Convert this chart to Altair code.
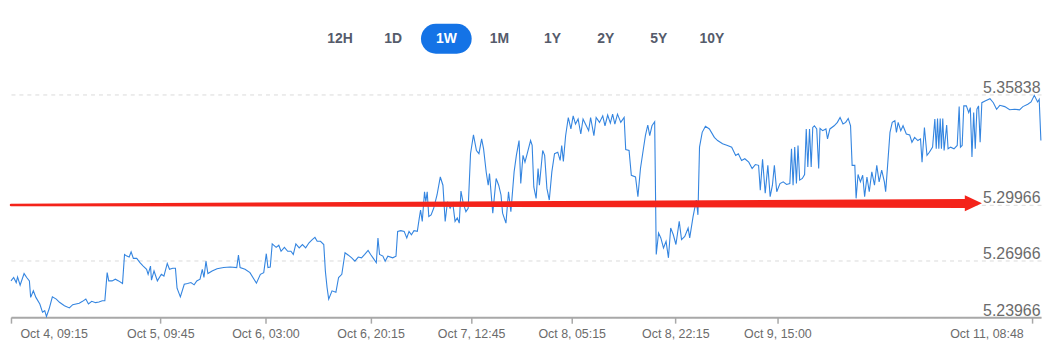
import altair as alt
import pandas as pd

START = pd.Timestamp("2024-10-04 09:15")
END_HOURS = 169.0

# hours since Oct 4, 09:15 and the rate
hours = [
    0.00, 0.44, 0.86, 1.08, 1.50, 2.15, 2.58, 3.02, 3.23, 3.67,
    4.09, 4.73, 5.17, 5.54, 5.82, 6.25, 6.79, 7.43, 7.96, 8.77,
    9.58, 10.13, 10.66, 11.20, 11.74, 12.28, 12.71, 13.25, 13.89, 14.43,
    14.98, 15.40, 15.78, 16.04, 16.59, 17.12, 17.66, 18.30, 18.63, 19.01,
    19.39, 19.71, 20.08, 20.63, 21.16, 21.70, 22.25, 22.50, 22.89, 23.05,
    23.47, 24.02, 24.67, 25.09, 25.64, 26.01, 26.54, 26.98, 27.25, 27.79,
    28.43, 28.97, 29.52, 30.05, 30.48, 31.02, 31.39, 31.66, 31.99, 32.31,
    33.00, 33.81, 34.89, 35.98, 37.04, 37.32, 37.59, 38.40, 39.21, 40.27,
    40.92, 41.47, 41.89, 42.16, 42.54, 42.86, 43.51, 43.94, 44.31, 44.86,
    45.40, 45.93, 46.32, 46.74, 47.29, 47.82, 48.35, 48.90, 49.43, 49.87,
    50.24, 50.78, 51.32, 51.58, 51.86, 52.13, 52.67, 53.31, 53.75, 54.28,
    54.81, 55.36, 55.90, 56.43, 56.98, 57.51, 58.04, 58.59, 59.01, 59.40,
    59.94, 60.21, 60.47, 61.02, 61.39, 61.83, 62.63, 63.17, 63.44, 63.97,
    64.51, 64.94, 65.31, 65.70, 66.12, 66.67, 66.99, 67.20, 67.48, 67.85,
    68.06, 68.29, 68.55, 68.93, 69.35, 69.90, 70.44, 70.87, 71.24, 71.62,
    72.05, 72.49, 72.86, 73.23, 73.55, 73.83, 74.20, 74.64, 75.01, 75.40,
    75.88, 76.37, 76.78, 77.22, 77.54, 77.98, 78.30, 78.51, 79.05, 79.60,
    80.02, 80.40, 80.66, 81.21, 81.63, 82.02, 82.55, 82.92, 83.36, 83.64,
    84.01, 84.33, 84.70, 85.25, 85.51, 85.78, 86.16, 86.48, 86.70, 87.24,
    87.56, 87.93, 88.32, 88.74, 89.18, 89.71, 90.10, 90.36, 90.63, 91.00,
    91.44, 91.87, 92.24, 92.62, 93.05, 93.49, 93.86, 94.39, 94.78, 95.10,
    95.64, 96.01, 96.56, 97.09, 97.46, 97.90, 98.34, 98.71, 99.08, 99.51,
    100.05, 100.60, 100.86, 101.41, 101.78, 102.47, 102.86, 103.28, 103.72, 104.09,
    104.48, 104.80, 105.17, 105.61, 105.87, 106.25, 106.62, 107.06, 107.48, 107.87,
    108.24, 108.67, 109.10, 109.64, 110.02, 110.55, 111.10, 111.36, 111.91, 112.44,
    112.71, 112.97, 113.41, 113.94, 114.59, 115.40, 115.94, 116.75, 117.56, 118.25,
    118.90, 119.34, 119.87, 120.40, 121.05, 121.60, 122.13, 122.66, 122.94, 123.31,
    123.75, 124.18, 124.56, 124.93, 125.25, 125.64, 126.17, 126.70, 127.25, 127.79,
    128.06, 128.32, 128.59, 128.87, 129.13, 129.40, 129.84, 130.21, 130.48, 130.74,
    131.02, 131.29, 131.55, 131.82, 132.20, 132.52, 132.74, 133.17, 133.71, 133.97,
    134.36, 135.06, 135.59, 136.03, 136.51, 136.95, 137.37, 137.75, 138.01, 138.45,
    138.66, 138.98, 139.37, 139.74, 140.06, 140.44, 140.82, 141.24, 141.68, 142.05,
    142.44, 142.86, 143.30, 143.51, 143.83, 144.22, 144.59, 145.02, 145.28, 145.56,
    145.99, 146.36, 146.90, 147.45, 147.82, 148.26, 148.79, 149.23, 149.48, 149.87,
    150.29, 150.68, 151.21, 151.58, 151.81, 152.02, 152.23, 152.46, 152.66, 152.88,
    153.10, 153.52, 153.75, 154.17, 154.72, 155.25, 155.57, 155.78, 156.06, 156.33,
    156.75, 157.14, 157.40, 157.67, 157.95, 158.21, 158.48, 158.75, 159.01, 159.29,
    159.82, 160.63, 161.18, 161.71, 162.24, 163.05, 163.86, 164.67, 165.48, 166.02,
    166.83, 167.37, 167.90, 168.44, 168.70, 168.98,
]

values = [
    5.2590, 5.2608, 5.2581, 5.2611, 5.2567, 5.2629, 5.2608, 5.2590, 5.2502, 5.2537,
    5.2502, 5.2467, 5.2423, 5.2431, 5.2400, 5.2440, 5.2505, 5.2493, 5.2476, 5.2458,
    5.2446, 5.2463, 5.2467, 5.2471, 5.2481, 5.2493, 5.2467, 5.2481, 5.2474, 5.2477,
    5.2484, 5.2484, 5.2634, 5.2590, 5.2590, 5.2599, 5.2590, 5.2576, 5.2731, 5.2722,
    5.2717, 5.2745, 5.2710, 5.2710, 5.2687, 5.2669, 5.2652, 5.2625, 5.2669, 5.2594,
    5.2643, 5.2590, 5.2625, 5.2616, 5.2683, 5.2652, 5.2657, 5.2657, 5.2551, 5.2505,
    5.2572, 5.2576, 5.2581, 5.2569, 5.2590, 5.2599, 5.2652, 5.2608, 5.2695, 5.2629,
    5.2643, 5.2655, 5.2661, 5.2664, 5.2661, 5.2727, 5.2661, 5.2652, 5.2634, 5.2578,
    5.2625, 5.2634, 5.2735, 5.2661, 5.2664, 5.2787, 5.2769, 5.2780, 5.2748, 5.2769,
    5.2748, 5.2748, 5.2731, 5.2787, 5.2766, 5.2784, 5.2766, 5.2793, 5.2810, 5.2822,
    5.2801, 5.2801, 5.2784, 5.2643, 5.2555, 5.2493, 5.2537, 5.2529, 5.2608, 5.2625,
    5.2740, 5.2727, 5.2713, 5.2695, 5.2717, 5.2713, 5.2731, 5.2752, 5.2731, 5.2713,
    5.2687, 5.2819, 5.2731, 5.2722, 5.2695, 5.2722, 5.2713, 5.2722, 5.2854, 5.2858,
    5.2854, 5.2819, 5.2854, 5.2836, 5.2858, 5.2854, 5.2925, 5.2968, 5.2907, 5.3065,
    5.3012, 5.3065, 5.2933, 5.2942, 5.2977, 5.3048, 5.3144, 5.3100, 5.2907, 5.3012,
    5.2977, 5.3004, 5.2907, 5.2925, 5.2898, 5.3069, 5.3004, 5.2959, 5.2977, 5.3268,
    5.3368, 5.3285, 5.3268, 5.3347, 5.3294, 5.3168, 5.3100, 5.3162, 5.2951, 5.3136,
    5.3100, 5.3048, 5.2951, 5.2898, 5.3065, 5.2959, 5.3171, 5.3259, 5.3338, 5.3109,
    5.3259, 5.3223, 5.3268, 5.3338, 5.3312, 5.3091, 5.3030, 5.3189, 5.3100, 5.3285,
    5.3259, 5.3083, 5.3021, 5.3171, 5.3268, 5.3276, 5.3232, 5.3312, 5.3227, 5.3364,
    5.3461, 5.3400, 5.3470, 5.3426, 5.3453, 5.3373, 5.3453, 5.3417, 5.3391, 5.3461,
    5.3364, 5.3461, 5.3435, 5.3470, 5.3417, 5.3474, 5.3431, 5.3479, 5.3426, 5.3479,
    5.3435, 5.3461, 5.3290, 5.3285, 5.3153, 5.3144, 5.3039, 5.3189, 5.3285, 5.3364,
    5.3421, 5.3364, 5.3417, 5.3438, 5.2731, 5.2845, 5.2819, 5.2766, 5.2801, 5.2713,
    5.2872, 5.2836, 5.2784, 5.2907, 5.2810, 5.2827, 5.2872, 5.2819, 5.2933, 5.3021,
    5.2942, 5.3303, 5.3382, 5.3414, 5.3400, 5.3355, 5.3338, 5.3321, 5.3312, 5.3303,
    5.3259, 5.3268, 5.3232, 5.3241, 5.3223, 5.3189, 5.3210, 5.3206, 5.3074, 5.3238,
    5.3057, 5.3206, 5.3039, 5.3100, 5.3206, 5.3065, 5.3109, 5.3118, 5.3104, 5.3109,
    5.3294, 5.3100, 5.3303, 5.3109, 5.3312, 5.3127, 5.3136, 5.3157, 5.3400, 5.3197,
    5.3400, 5.3197, 5.3408, 5.3417, 5.3400, 5.3189, 5.3403, 5.3391, 5.3400, 5.3347,
    5.3400, 5.3417, 5.3435, 5.3461, 5.3426, 5.3435, 5.3456, 5.3417, 5.3206, 5.3206,
    5.3030, 5.3157, 5.3118, 5.3153, 5.3039, 5.3144, 5.3065, 5.3171, 5.3100, 5.3206,
    5.3118, 5.3180, 5.3118, 5.3065, 5.3206, 5.3382, 5.3435, 5.3444, 5.3382, 5.3435,
    5.3391, 5.3417, 5.3373, 5.3368, 5.3329, 5.3355, 5.3338, 5.3347, 5.3223, 5.3408,
    5.3259, 5.3276, 5.3303, 5.3453, 5.3294, 5.3456, 5.3294, 5.3456, 5.3294, 5.3456,
    5.3285, 5.3421, 5.3294, 5.3303, 5.3294, 5.3312, 5.3519, 5.3303, 5.3312, 5.3523,
    5.3523, 5.3487, 5.3514, 5.3250, 5.3487, 5.3294, 5.3505, 5.3523, 5.3329, 5.3540,
    5.3549, 5.3561, 5.3540, 5.3505, 5.3526, 5.3519, 5.3502, 5.3505, 5.3502, 5.3519,
    5.3532, 5.3544, 5.3579, 5.3544, 5.3558, 5.3338,
]
assert len(hours) == len(values)

tick_labels_at = [
    (2024, 10, 4, 9, 15), (2024, 10, 5, 9, 45), (2024, 10, 6, 3, 0),
    (2024, 10, 6, 20, 15), (2024, 10, 7, 12, 45), (2024, 10, 8, 5, 15),
    (2024, 10, 8, 22, 15), (2024, 10, 9, 15, 0), (2024, 10, 11, 8, 48),
]
y_ticks = [5.23966, 5.26966, 5.29966, 5.35838]

buttons = ["12H", "1D", "1W", "1M", "1Y", "2Y", "5Y", "10Y"]
active_button = "1W"

# red annotation arrow (in data units)
arrow_hours = [0.0, 156.5]
arrow_values = [5.2995, 5.3003]
arrow_widths = [2.5, 9.0]
head_hours = [156.5, 159.3]
head_top = [5.3046, 5.3004]
head_bottom = [5.2961, 5.3004]


def to_ts(hs):
    return [START + pd.Timedelta(hours=h) for h in hs]


df = pd.DataFrame({"t": to_ts(hours), "v": values})
arrow_df = pd.DataFrame({"t": to_ts(arrow_hours), "v": arrow_values, "w": arrow_widths})
head_df = pd.DataFrame({"t": to_ts(head_hours), "hi": head_top, "lo": head_bottom})

end_ts = START + pd.Timedelta(hours=END_HOURS)
dt_start = alt.DateTime(year=2024, month=10, date=4, hours=9, minutes=15)
dt_end = alt.DateTime(year=end_ts.year, month=end_ts.month, date=end_ts.day,
                      hours=end_ts.hour, minutes=end_ts.minute)
tick_dts = [alt.DateTime(year=y, month=m, date=d, hours=hh, minutes=mm)
            for (y, m, d, hh, mm) in tick_labels_at]

W = 1036
H = 224

x_scale = alt.Scale(domain=[dt_start, dt_end], nice=False)
x_enc = alt.X(
    "t:T",
    title=None,
    scale=x_scale,
    axis=alt.Axis(
        values=tick_dts, format="%b %-d, %H:%M", grid=False,
        domainColor="#a8a8a8", domainWidth=2, tickColor="#a8a8a8", tickWidth=1.5,
        tickSize=6, labelColor="#6b6b6b", labelFont="Liberation Sans",
        labelFontSize=12.5, labelPadding=4, labelFlush=20, labelFlushOffset=-9,
        labelOverlap=False,
    ),
)
y_scale = alt.Scale(domain=[y_ticks[0], y_ticks[-1]], nice=False, zero=False)
y_enc = alt.Y(
    "v:Q",
    title=None,
    scale=y_scale,
    axis=alt.Axis(
        orient="right", values=y_ticks, format=".5f", domain=False, ticks=False,
        grid=True, gridColor="#dadada", gridDash=[4, 4], gridWidth=1,
        labelAlign="right", labelBaseline="alphabetic", labelPadding=-1, labelOffset=-2,
        labelColor="#6b6b6b", labelFont="Liberation Sans", labelFontSize=16,
        labelOverlap=False,
    ),
)

line = alt.Chart(df).mark_line(color="#3485e0", strokeWidth=1.1).encode(x=x_enc, y=y_enc)

shaft = alt.Chart(arrow_df).mark_trail(color="#f4231a").encode(
    x=alt.X("t:T", scale=x_scale), y=alt.Y("v:Q", scale=y_scale),
    size=alt.Size("w:Q", scale=None, legend=None),
)
head = alt.Chart(head_df).mark_area(color="#f4231a").encode(
    x=alt.X("t:T", scale=x_scale), y=alt.Y("hi:Q", scale=y_scale), y2="lo:Q"
)

main = alt.layer(line, shaft, head).properties(width=W, height=H)

btn_df = pd.DataFrame({"label": buttons, "active": [b == active_button for b in buttons]})
bx = alt.X("label:N", scale=alt.Scale(type="point", domain=buttons, range=[331, 705], padding=0),
           axis=None)
pill = alt.Chart(btn_df).transform_filter("datum.active").mark_rule(
    color="#1473e6", strokeWidth=30, strokeCap="round", xOffset=-10.5, x2Offset=10.5
).encode(x=bx, x2="label:N", y=alt.value(30))
btn_text = alt.Chart(btn_df).mark_text(
    font="Liberation Sans", fontSize=14, fontWeight="bold"
).encode(
    x=bx, y=alt.value(30), text="label:N",
    color=alt.condition("datum.active", alt.value("#ffffff"), alt.value("#555b6b")),
)
top = alt.layer(pill, btn_text).properties(width=W, height=60)

chart = alt.vconcat(top, main, spacing=26, bounds="flush").properties(
    padding=0, background="white"
).configure_view(stroke=None)

chart.save("out.html", embed_options={"renderer": "svg", "actions": False})
